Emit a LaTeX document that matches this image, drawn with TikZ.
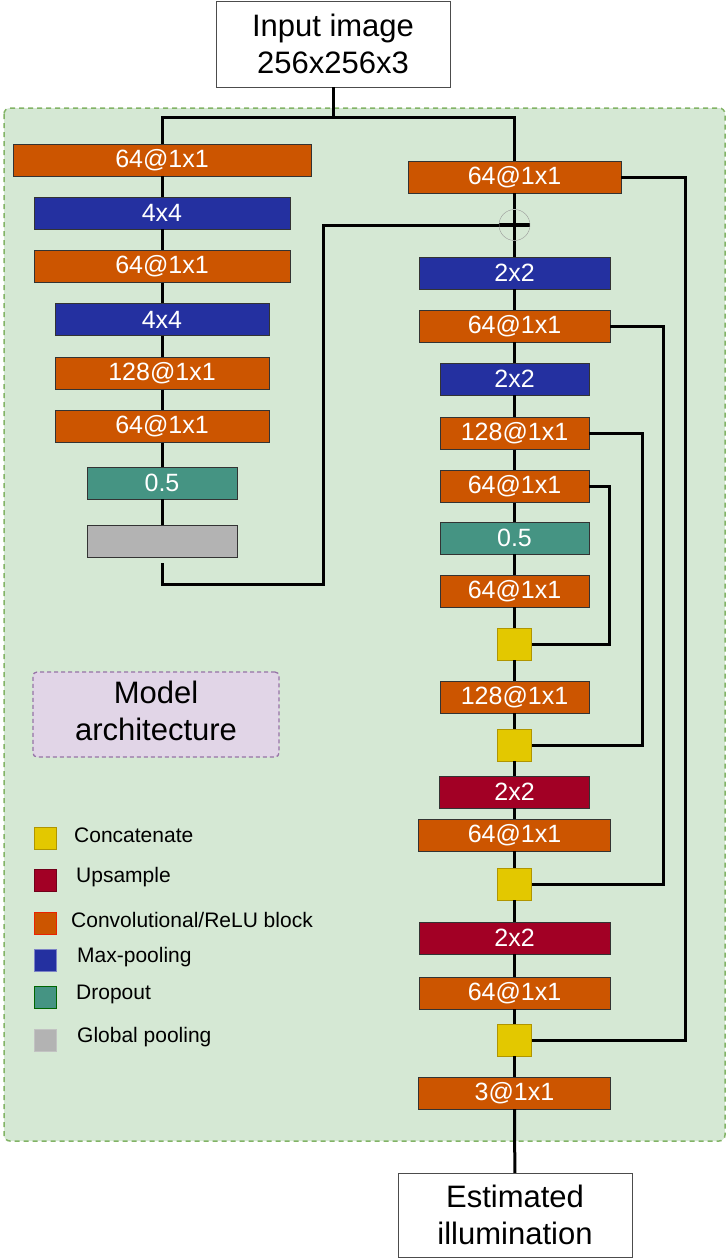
\documentclass[tikz,border=0pt]{standalone}
\usepackage{fontspec}
\setmainfont{Liberation Sans}
\usepackage{tikz}

\definecolor{convc}{HTML}{CC5500}
\definecolor{poolc}{HTML}{2430A0}
\definecolor{upc}{HTML}{A20025}
\definecolor{dropc}{HTML}{459483}
\definecolor{gpc}{HTML}{B3B3B3}
\definecolor{catc}{HTML}{E3C800}
\definecolor{catd}{HTML}{B09500}
\definecolor{bgc}{HTML}{D5E8D4}
\definecolor{bgd}{HTML}{82B366}
\definecolor{purpc}{HTML}{E1D5E7}
\definecolor{purpd}{HTML}{9673A6}

\begin{document}
\begin{tikzpicture}[x=1pt, y=-1pt, every node/.style={font=\fontsize{25}{28}\selectfont}]
  \tikzstyle{blk}=[rectangle,draw=black!80,minimum height=32pt,inner sep=0pt,text=white]
  \tikzstyle{convblk}=[fill=convc]
  \tikzstyle{poolblk}=[fill=poolc]
  \tikzstyle{upblk}=[fill=upc]
  \tikzstyle{dropblk}=[fill=dropc]
  \tikzstyle{gpblk}=[fill=gpc]
  \tikzstyle{catblk}=[rectangle,draw=catd,fill=catc,minimum width=34pt,minimum height=32pt,inner sep=0pt]
  \tikzstyle{iobox}=[rectangle,draw=black!70,fill=white,minimum width=234pt,align=center,font=\fontsize{31}{37}\selectfont]
  \tikzstyle{conn}=[line width=3pt]
  \tikzstyle{legbox}=[rectangle,minimum size=22pt,inner sep=0pt,line width=1pt]
  \useasboundingbox (0,0) rectangle (727,1258);
  % model area
  \draw[fill=bgc,draw=bgd,line width=1.5pt,dash pattern=on 5pt off 4pt,rounded corners=6pt] (4,108) rectangle (725,1141);
  \node[iobox,minimum height=86pt] (in) at (333,44) {Input image\\256x256x3};
  \node[iobox,minimum height=84pt] (out) at (515,1215) {Estimated\\illumination};
  % global branch
  \foreach \n/\y/\w/\s/\t in {L1/160/298/convblk/64@1x1, L2/213/256/poolblk/4x4, L3/266.5/256/convblk/64@1x1,
      L4/319.5/214/poolblk/4x4, L5/373.5/214/convblk/128@1x1, L6/426.5/214/convblk/64@1x1,
      L7/483/150/dropblk/0.5, L8/541/150/gpblk/}
    \node[blk,\s,minimum width=\w pt] (\n) at (162,\y) {\t};
  % local branch
  \foreach \n/\y/\w/\s/\t in {R1/177/213/convblk/64@1x1, R2/273/191/poolblk/2x2, R3/326/191/convblk/64@1x1,
      R4/379/149/poolblk/2x2, R5/433.5/149/convblk/128@1x1, R6/486.5/149/convblk/64@1x1,
      R7/538/149/dropblk/0.5, R8/591/149/convblk/64@1x1, R9/697/149/convblk/128@1x1,
      R10/792/150/upblk/2x2, R11/835/192/convblk/64@1x1, R12/938/191/upblk/2x2,
      R13/993/191/convblk/64@1x1, R14/1093/192/convblk/3@1x1}
    \node[blk,\s,minimum width=\w pt] (\n) at (514.5,\y) {\t};
  \foreach \n/\y in {C1/644, C2/745, C3/884, C4/1040}
    \node[catblk] (\n) at (514.5,\y) {};
  \node[circle,draw=gray!80,thin,minimum size=31pt,inner sep=0pt,
    path picture={\draw[black,line width=3.4pt] (path picture bounding box.north) -- (path picture bounding box.south)
      (path picture bounding box.west) -- (path picture bounding box.east);}] (P) at (514.5,225) {};
  % connections
  \coordinate (split) at (333,117);
  \coordinate (gpturn) at (323,584);
  \draw[conn] (in) -- (split);
  \draw[conn] (L1) |- (split) -| (R1);
  \foreach \a/\b in {L1/L2,L2/L3,L3/L4,L4/L5,L5/L6,L6/L7,L7/L8}
    \draw[conn] (\a) -- (\b);
  \foreach \a/\b in {R1/P,P/R2,R2/R3,R3/R4,R4/R5,R5/R6,R6/R7,R7/R8,R8/C1,C1/R9,R9/C2,C2/R10,
      R10/R11,R11/C3,C3/R12,R12/R13,R13/C4,C4/R14,R14/out}
    \draw[conn] (\a) -- (\b);
  \draw[conn] ([yshift=-6pt]L8.south) |- (gpturn) |- (P.west);
  \draw[conn] (R1.east) -- ++(64,0) |- (C4.east);
  \draw[conn] (R3.east) -- ++(53,0) |- (C3.east);
  \draw[conn] (R5.east) -- ++(53,0) |- (C2.east);
  \draw[conn] (R6.east) -- ++(20.5,0) |- (C1.east);
  % legend
  \node[draw=purpd,fill=purpc,line width=1.3pt,dash pattern=on 4pt off 3pt,rounded corners=4pt,
    minimum width=246pt,minimum height=85pt,align=center,font=\fontsize{31}{37}\selectfont] (model) at (156,714.5) {Model\\architecture\rule[-8pt]{0pt}{1pt}};
  \foreach \n/\y/\f/\d/\x/\t in {lcat/838/catc/catd/74/Concatenate, lup/880/upc/upc!70!black/76/Upsample,
      lconv/923/convc/red!60!convc/71/{Convolutional/ReLU block}, lpool/960/poolc/poolc!60!white/77/Max-pooling,
      ldrop/997/dropc/green!40!black/76/Dropout, lgp/1040/gpc/gpc!80!white/77/Global pooling} {
    \node[legbox,fill=\f,draw=\d] (\n) at (45,\y) {};
    \node[anchor=west,inner sep=0pt,font=\fontsize{21}{25}\selectfont] (\n txt) at (\x,\y-3) {\t};
  }
\end{tikzpicture}
\end{document}
